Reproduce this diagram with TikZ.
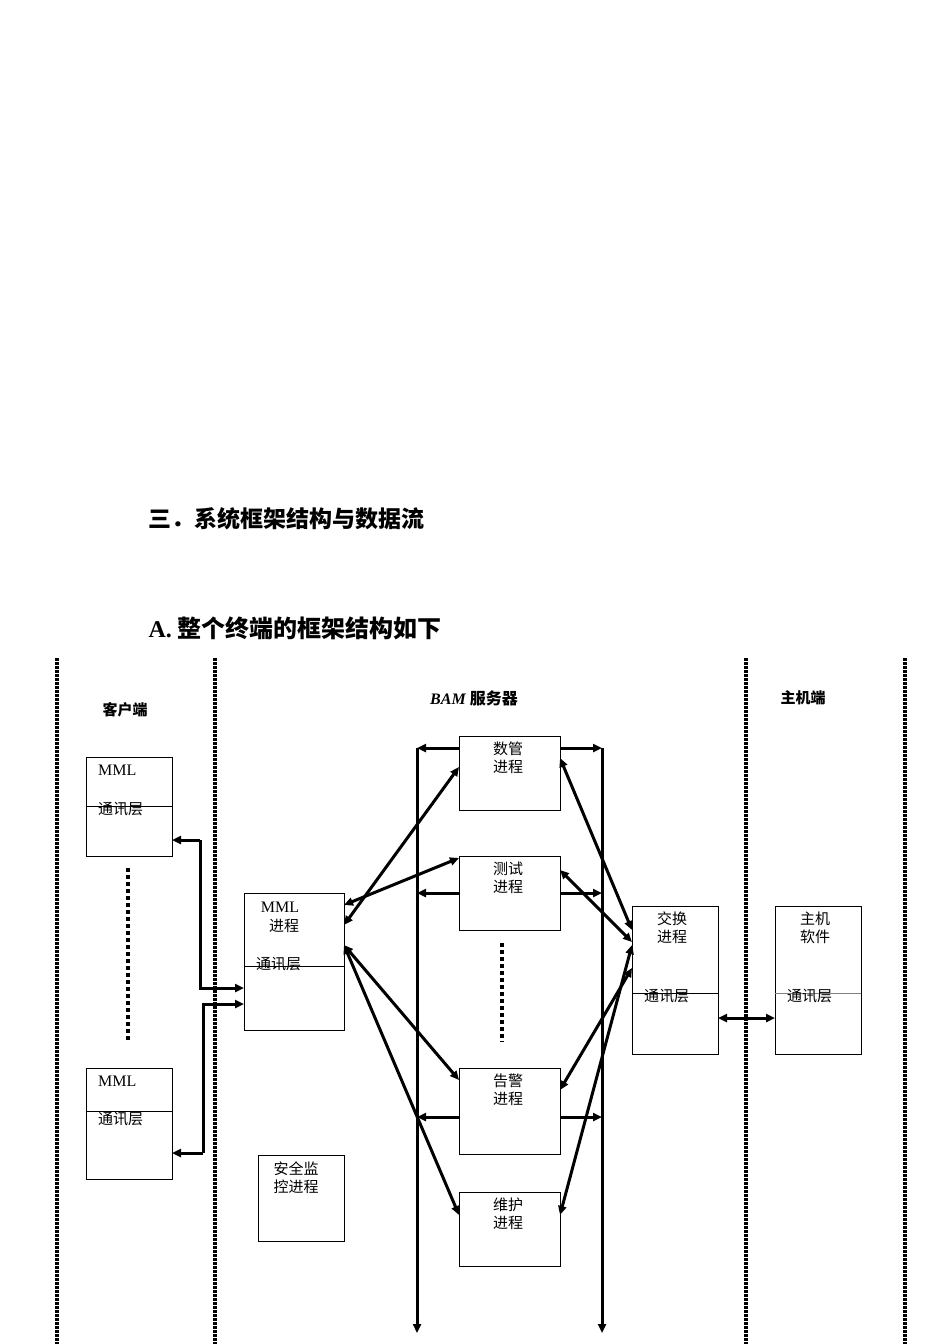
\documentclass[tikz,border=0pt]{standalone}
\usepackage{fontspec}
\setmainfont{Liberation Serif}
\newfontfamily\cjk{Noto Sans CJK SC}
\usetikzlibrary{arrows.meta}
\begin{document}
\begin{tikzpicture}[x=1pt,y=-1pt,
  bx/.style={draw,line width=1pt},
  ar/.style={line width=3pt,-{Triangle[length=9pt,width=8pt]}},
  ar2/.style={line width=3pt,{Triangle[length=9pt,width=8pt]}-{Triangle[length=9pt,width=8pt]}},
  dv/.style={line width=3.5pt,dash pattern=on 2.5pt off 1.5pt},
  dt/.style={line width=4pt,dash pattern=on 4pt off 3pt},
  tx/.style={font=\cjk\fontsize{15}{18}\selectfont,align=center,anchor=north,inner sep=0pt}]
\useasboundingbox (0,0) rectangle (950,1344);
\node[anchor=west,font=\cjk\bfseries\fontsize{23}{26}\selectfont] (h1) at (145,519) {三．系统框架结构与数据流};
\node[anchor=west,font=\bfseries\fontsize{24}{27}\selectfont] (h2) at (145,628) {A. {\cjk\bfseries 整个终端的框架结构如下}};
% dividers
\foreach \x/\n in {57/a,215/b,746/c,905/d}{\coordinate (t\n) at (\x,658); \coordinate (b\n) at (\x,1344); \draw[dv] (t\n)--(b\n);}
\node[font=\cjk\bfseries\itshape\fontsize{15}{18}\selectfont] (l1) at (125,710) {客户端};
\node[font=\bfseries\itshape\fontsize{16}{18}\selectfont] (l2) at (474,698) {BAM {\cjk 服务器}};
\node[font=\cjk\bfseries\itshape\fontsize{15}{18}\selectfont] (l3) at (803,698) {主机端};
% boxes
\draw[bx] (86,757) rectangle (172,856); \draw (86,806)--(172,806);
\node[anchor=north west,inner sep=0pt,font=\fontsize{16}{18}\selectfont] (c1) at (98,765) {MML};
\node[tx,anchor=north west] (c1b) at (98,802) {通讯层};
\draw[bx] (86,1068) rectangle (172,1179); \draw (86,1111)--(172,1111);
\node[anchor=north west,inner sep=0pt,font=\fontsize{16}{18}\selectfont] (c2) at (98,1076) {MML};
\node[tx,anchor=north west] (c2b) at (98,1112) {通讯层};
\draw[dt] (128,868)--(128,1042);
\draw[bx] (244,893) rectangle (344,1030); \draw (244,966)--(344,966);
\node[tx,font=\fontsize{16}{18}\selectfont] (m1) at (280,902) {MML};
\node[tx] (m2) at (284,919) {进程};
\node[tx,anchor=north west] (m3) at (256,957) {通讯层};
\draw[bx] (258,1155) rectangle (344,1241);
\node[tx] (s1) at (296,1162) {安全监\\控进程};
\foreach \y/\h/\t/\n in {736/74/数管/p1,856/74/测试/p2,1068/86/告警/p3,1192/74/维护/p4}{
  \draw[bx] (459,\y) rectangle (560,\y+\h);
  \node[tx] (\n) at (508,\y+6) {\t\\进程};}
\draw[dt] (502,943)--(502,1042);
\draw[bx] (632,906) rectangle (718,1054); \draw (632,993)--(718,993);
\node[tx] (x1) at (672,912) {交换\\进程};
\node[tx,anchor=north west] (x2) at (644,989) {通讯层};
\draw[bx] (775,906) rectangle (861,1054); \draw[gray] (775,993)--(861,993);
\node[tx] (z1) at (815,912) {主机\\软件};
\node[tx,anchor=north west] (z2) at (787,989) {通讯层};
% buses
\coordinate (L0) at (417,748); \coordinate (L1) at (417,1333);
\coordinate (R0) at (602,748); \coordinate (R1) at (602,1333);
\draw[ar] (L0)--(L1); \draw[ar] (R0)--(R1);
\foreach \y in {748,893,1117}{\draw[ar] (459,\y)--(417,\y); \draw[ar] (560,\y)--(602,\y);}
% client links
\draw[ar] (200,840) -- (200,988) -- (244,988);
\draw[ar] (200,840) -- (172,840);
\draw[ar] (203,1153) -- (203,1004) -- (244,1004);
\draw[ar] (203,1153) -- (172,1153);
% diagonals
\draw[ar2] (344,925)--(459,767);
\draw[ar2] (344,905)--(459,858);
\draw[ar2] (344,945)--(459,1080);
\draw[ar2] (344,945)--(459,1215);
\draw[ar2] (560,758)--(632,930);
\draw[ar2] (560,870)--(632,942);
\draw[ar2] (560,1090)--(632,968);
\draw[ar2] (560,1215)--(632,945);
\draw[ar2] (718,1018)--(775,1018);
\end{tikzpicture}
\end{document}
